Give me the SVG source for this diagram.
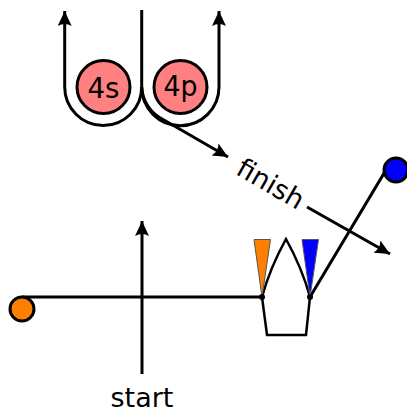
<svg xmlns="http://www.w3.org/2000/svg" width="407" height="413" viewBox="0 0 407 413">
<style>
.c{fill:none;stroke:#000;stroke-width:3}
.t{fill:none;stroke:#000;stroke-width:2.500}
.n{stroke:#000;stroke-width:3}
text{font-family:"DejaVu Sans",sans-serif;fill:#000}
</style>
<defs>
<marker id="a" markerUnits="userSpaceOnUse" markerWidth="18" markerHeight="16" refX="15" refY="7" orient="auto">
<path d="M15 7 L0 0 Q4 7 0 14 Z" fill="#000"/>
</marker>
</defs>
<g id="connectors">
<path class="c" marker-end="url(#a)" d="M141.700 10 V87 A38.500 38.500 0 0 1 64.700 87 V11"/>
<path class="c" marker-end="url(#a)" d="M141.700 87 A38.500 38.500 0 0 0 219 87 V11"/>
<path class="c" marker-end="url(#a)" d="M141.700 87 A38.500 38.500 0 0 0 164 120 L228 157"/>
<path class="c" marker-end="url(#a)" d="M307 207 L390 254"/>
<path class="c" marker-end="url(#a)" d="M142 374 V221"/>
<path class="c" d="M22 297 H262"/>
<path class="c" d="M310 297 L386 170 L396 165"/>
<path class="t" d="M262 297 Q270 268 286 239 Q302 268 310 297 L306 335 H267 Z"/>
</g>
<g id="tri-orange"><path d="M254 239.500 H270.500 L262 297 Z" fill="#ff8000" stroke="#555" stroke-width="1"/></g>
<g id="tri-blue"><path d="M302 239.500 H318.500 L310 297 Z" fill="#0000ff" stroke="#555" stroke-width="1"/></g>
<g id="junction-left"><circle cx="262" cy="297" r="3" fill="#000"/></g>
<g id="junction-right"><circle cx="310" cy="297" r="3" fill="#000"/></g>
<g id="orb-4s"><circle class="n" cx="103.500" cy="87" r="26.500" fill="#ff8080"/><text x="87.500" y="98" font-size="29" textLength="32" lengthAdjust="spacingAndGlyphs">4s</text></g>
<g id="orb-4p"><circle class="n" cx="180.500" cy="87" r="26.500" fill="#ff8080"/><text x="163.500" y="96" font-size="29" textLength="34" lengthAdjust="spacingAndGlyphs">4p</text></g>
<g id="orange-dot"><circle class="n" cx="22" cy="309" r="12" fill="#ff8000"/></g>
<g id="blue-dot"><circle class="n" cx="396" cy="170" r="12" fill="#0000ff"/></g>
<g id="label-finish"><text transform="translate(270.500 184) rotate(30)" font-size="27" text-anchor="middle" y="9">finish</text></g>
<g id="label-start"><text x="142" y="407" font-size="27" text-anchor="middle">start</text></g>
</svg>
